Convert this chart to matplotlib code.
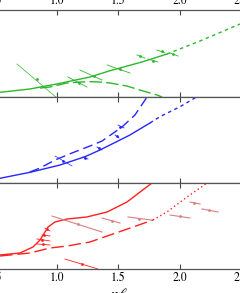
import numpy as np
import matplotlib.pyplot as plt

plt.rcParams['font.family'] = 'STIXGeneral'
plt.rcParams['mathtext.fontset'] = 'stix'

# ---- green (top panel) ----
g_solid_x = [0.537, 0.780, 1.024, 1.268, 1.431, 1.699, 1.894]
g_solid_y = [0.054, 0.092, 0.157, 0.230, 0.302, 0.406, 0.494]
g_ext_x = [1.894, 2.163, 2.488]
g_ext_y = [0.494, 0.644, 0.839]
g_hump_x = [0.862, 0.943, 1.081, 1.187, 1.268, 1.350, 1.431, 1.569, 1.675, 1.813, 1.854]
g_hump_y = [0.103, 0.115, 0.161, 0.172, 0.176, 0.172, 0.161, 0.126, 0.080, 0.023, 0.0]
g_thin = [0.675, 0.379, 1.0, -0.011, 0.837, 0.207]
g_segs = [
    [1.089, 0.230, 1.244, 0.115, 1.179, 0.161],
    [1.187, 0.310, 1.366, 0.195, 1.301, 0.247],
    [1.407, 0.368, 1.593, 0.276, 1.512, 0.322],
    [1.650, 0.483, 1.715, 0.448, 1.675, 0.471],
    [1.740, 0.437, 1.821, 0.402, 1.780, 0.414],
    [1.813, 0.540, 1.878, 0.506, 1.854, 0.529],
    [1.919, 0.506, 1.984, 0.471, 1.943, 0.494],
]

# ---- blue (middle panel) ----
b_solid_x = [0.537, 0.780, 1.024, 1.228, 1.350, 1.593, 1.756]
b_solid_y = [0.055, 0.124, 0.209, 0.306, 0.384, 0.558, 0.698]
b_ext_x = [1.756, 1.837, 2.0, 2.138]
b_ext_y = [0.698, 0.771, 0.887, 1.003]
b_dash_x = [0.780, 0.862, 0.984, 1.122, 1.268, 1.366, 1.528, 1.634, 1.732]
b_dash_y = [0.128, 0.174, 0.267, 0.349, 0.430, 0.488, 0.651, 0.791, 1.0]
b_thin = [0.984, 0.314, 1.122, 0.198, 1.049, 0.256]
b_segs = [
    [1.211, 0.302, 1.252, 0.279, 1.228, 0.291],
    [1.325, 0.419, 1.366, 0.384, 1.341, 0.407],
    [1.472, 0.558, 1.504, 0.523, 1.488, 0.547],
    [1.496, 0.674, 1.545, 0.640, 1.512, 0.651],
]

# ---- red (bottom panel) ----
r_solid_x = [0.537, 0.699, 0.805, 0.862, 0.902, 0.927, 0.984, 1.081, 1.244, 1.407, 1.569, 1.675, 1.772]
r_solid_y = [0.163, 0.186, 0.256, 0.337, 0.430, 0.488, 0.547, 0.581, 0.605, 0.663, 0.779, 0.895, 1.0]
r_dash_x = [0.537, 0.780, 0.943, 1.081, 1.268, 1.431, 1.618, 1.780]
r_dash_y = [0.151, 0.186, 0.244, 0.267, 0.314, 0.395, 0.488, 0.570]
r_ext_x = [1.780, 1.894, 2.057, 2.220]
r_ext_y = [0.570, 0.663, 0.837, 1.0]
r_pink = [
    [0.959, 0.616, 1.366, 0.430, 1.171, 0.523],
    [1.366, 0.593, 1.512, 0.535, 1.447, 0.558],
    [1.577, 0.605, 1.764, 0.570, 1.667, 0.581],
    [1.919, 0.628, 2.081, 0.593, 2.000, 0.616],
    [2.081, 0.779, 2.163, 0.756, 2.114, 0.767],
    [2.179, 0.698, 2.309, 0.663, 2.236, 0.686],
]
r_low = [1.065, 0.116, 1.333, 0.0, 1.203, 0.058]
r_segs = [
    [0.902, 0.477, 0.943, 0.442, 0.919, 0.465],
    [0.878, 0.395, 0.943, 0.384, 0.894, 0.395],
    [0.837, 0.349, 0.943, 0.326, 0.878, 0.337],
    [0.837, 0.291, 0.943, 0.279, 0.886, 0.291],
]

xticks = [0.5, 1.0, 1.5, 2.0, 2.5]

green = '#2cb82c'
blue = '#2626ff'
red = '#ff2020'
pink = '#d88080'

fig = plt.figure(figsize=(2.4, 2.93), dpi=100)
W, H = 240.0, 293.0
left = -4.5 / W
width = 246.0 / W
tops = [10, 97, 183]
bots = [97, 183, 269]
axes = []
for t, b in zip(tops, bots):
    ax = fig.add_axes([left, (H - b) / H, width, (b - t) / H])
    ax.set_xlim(0.5, 2.5)
    ax.set_ylim(0, 1)
    ax.set_yticks([])
    ax.set_xticks(xticks)
    ax.tick_params(axis='x', direction='in', top=True, bottom=True, length=3.5,
                   width=0.8, color='#444444', labelsize=8.5, pad=2,
                   labelbottom=False, labeltop=False)
    for s in ax.spines.values():
        s.set_color('#555555')
        s.set_linewidth(0.9)
    axes.append(ax)

axes[0].tick_params(labeltop=True)
axes[2].tick_params(labelbottom=True)
axes[2].set_xlabel(r'$\eta\ell$', fontsize=11, labelpad=2)


def segs(ax, data, color, lw=0.6, ms=2.0, alpha=1.0):
    for x1, y1, x2, y2, mx, my in data:
        ax.plot([x1, x2], [y1, y2], color=color, lw=lw, alpha=alpha)
        ax.plot([mx], [my], marker='o', ms=ms, color=color, alpha=alpha, mew=0)


ax = axes[0]
ax.plot(g_solid_x, g_solid_y, color=green, lw=1.0)
ax.plot(g_ext_x, g_ext_y, color=green, lw=1.0, dashes=(2.5, 2.5))
ax.plot(g_hump_x, g_hump_y, color=green, lw=1.0, dashes=(9, 3))
segs(ax, [g_thin], green, lw=0.5)
segs(ax, g_segs, green)

ax = axes[1]
ax.plot(b_solid_x, b_solid_y, color=blue, lw=1.0)
ax.plot(b_ext_x, b_ext_y, color=blue, lw=1.0, dashes=(2.5, 2.5))
ax.plot(b_dash_x, b_dash_y, color=blue, lw=1.0, dashes=(7, 3.5))
segs(ax, [b_thin], blue, lw=0.5)
segs(ax, b_segs, blue)

ax = axes[2]
ax.plot(r_solid_x, r_solid_y, color=red, lw=1.0)
ax.plot(r_dash_x, r_dash_y, color=red, lw=1.0, dashes=(9, 3.5))
ax.plot(r_ext_x, r_ext_y, color=red, lw=1.0, dashes=(1, 2))
segs(ax, r_pink, pink, lw=0.8)
segs(ax, [r_low], red, lw=0.6)
segs(ax, r_segs, red)

fig.savefig('out.png', dpi=100)
